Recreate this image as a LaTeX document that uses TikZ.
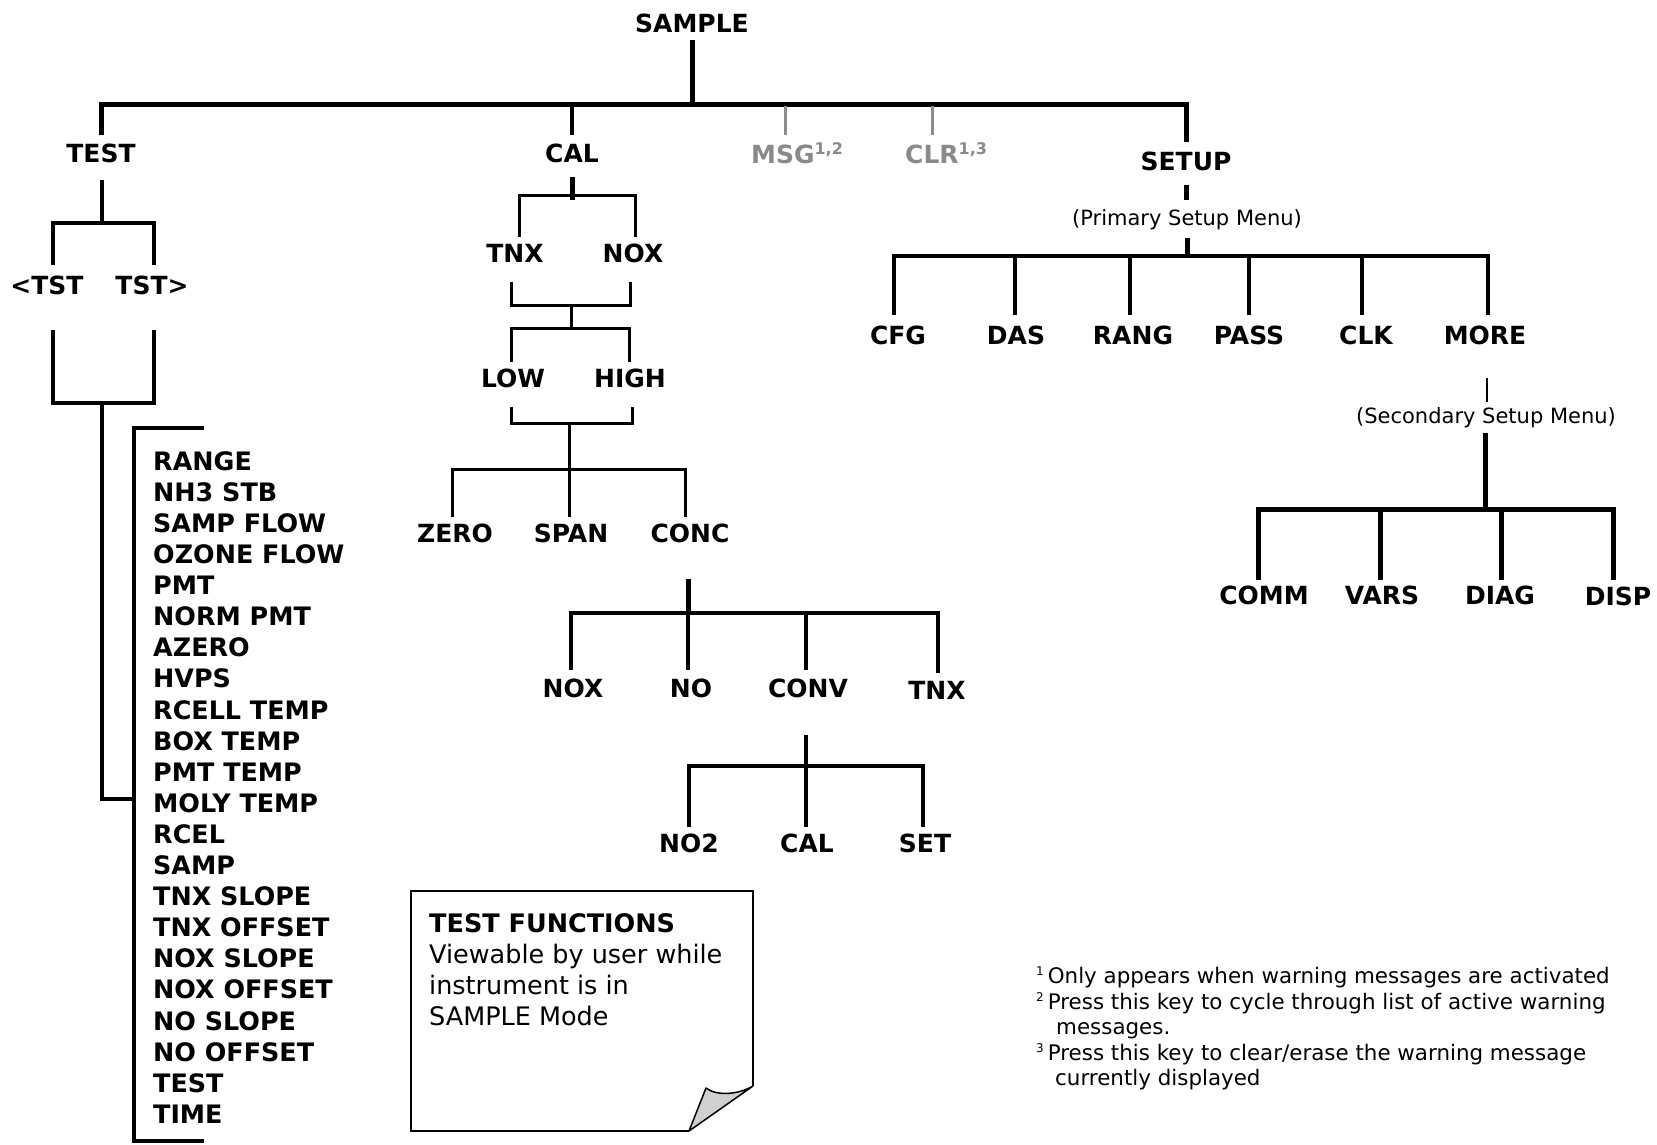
\documentclass[tikz,border=0pt]{standalone}
\usepackage{fontspec}
\setmainfont{DejaVu Sans}
\begin{document}
\begin{tikzpicture}[x=1pt,y=-1pt,
  lbl/.style={font=\fontsize{25}{30}\selectfont\bfseries, inner sep=0pt, anchor=center},
  glbl/.style={lbl, text=greytxt, anchor=west},
  item/.style={font=\fontsize{25.4}{30}\selectfont\bfseries, inner sep=0pt, anchor=west},
  small/.style={font=\fontsize{21}{25}\selectfont, inner sep=0pt, anchor=base},
  note/.style={font=\fontsize{21.4}{25}\selectfont, inner sep=0pt, anchor=base west},
  boxtxt/.style={font=\fontsize{25.5}{30}\selectfont, inner sep=0pt, anchor=base west},
  wA/.style={line width=5pt, line join=miter},
  wB/.style={line width=4.2pt, line join=miter},
  wC/.style={line width=3pt, line join=miter},
  wG/.style={line width=3pt, draw=greyline},
]
\definecolor{greytxt}{HTML}{8A8A8A}
\definecolor{greyline}{HTML}{8C8C8C}
\definecolor{foldfill}{HTML}{D0D0D0}
\useasboundingbox (0,0) rectangle (1657,1144);

% ---------- top level ----------
\node[lbl] (sample) at (692,23) {SAMPLE};
\node[lbl] (test) at (101,153) {TEST};
\node[lbl] (cal) at (572,153) {CAL};
\node[glbl] (msg) at (751,153) {MSG\raisebox{9pt}{\fontsize{16}{16}\selectfont 1,2}};
\node[glbl] (clr) at (905,153) {CLR\raisebox{9pt}{\fontsize{16}{16}\selectfont 1,3}};
\node[lbl] (setup) at (1186,161) {SETUP};

\coordinate (barL) at (101,104);
\coordinate (barR) at (1186,104);
\draw[wA] (692,40) -- (692,104);
\draw[wA] (101,135) -- (barL) -- (barR) -- (1186,142);
\draw[wB] (572,104) -- (572,135);
\draw[wG] (785,106) -- (785,135);
\draw[wG] (932,106) -- (932,135);

% ---------- TEST subtree ----------
\node[lbl] (ltst) at (47,285) {\textless TST};
\node[lbl] (rtst) at (152,285) {TST\textgreater};
\draw[wB] (102,180) -- (102,223);
\draw[wB] (53,265) -- (53,223) -- (154,223) -- (154,265);
\draw[wB] (53,330) -- (53,403) -- (154,403) -- (154,330);
\coordinate (tj) at (102,799);
\draw[wB] (102,403) -- (tj) -- (134,799);
\draw[wB] (204,428) -- (134,428) -- (134,1141) -- (204,1141);

\foreach \t [count=\i from 0] in {RANGE,NH3 STB,SAMP FLOW,OZONE FLOW,PMT,NORM PMT,AZERO,HVPS,RCELL TEMP,BOX TEMP,PMT TEMP,MOLY TEMP,RCEL,SAMP,TNX SLOPE,TNX OFFSET,NOX SLOPE,NOX OFFSET,NO SLOPE,NO OFFSET,TEST,TIME}
  \node[item] (it\i) at (153,461+31.1*\i) {\t};

% ---------- CAL subtree ----------
\node[lbl] (tnx) at (515,253) {TNX};
\node[lbl] (nox) at (633,253) {NOX};
\node[lbl] (low) at (513,378) {LOW};
\node[lbl] (high) at (630,378) {HIGH};
\node[lbl] (zero) at (455,533) {ZERO};
\node[lbl] (span) at (571,533) {SPAN};
\node[lbl] (conc) at (690,533) {CONC};
\node[lbl] (nox2) at (573,688) {NOX};
\node[lbl] (no) at (691,688) {NO};
\node[lbl] (conv) at (808,688) {CONV};
\node[lbl] (tnx2) at (937,690) {TNX};
\node[lbl] (no2) at (689,843) {NO2};
\node[lbl] (cal2) at (807,843) {CAL};
\node[lbl] (set) at (925,843) {SET};

\draw[wA] (572,177) -- (572,200);
\draw[wC] (519,237) -- (519,195) -- (635,195) -- (635,237);
\draw[wC] (511,282) -- (511,305) -- (630,305) -- (630,282);
\draw[wC] (571,305) -- (571,328);
\draw[wC] (511,362) -- (511,328) -- (629,328) -- (629,362);
\draw[wC] (511,407) -- (511,423) -- (632,423) -- (632,407);
\draw[wC] (569,423) -- (569,517);
\draw[wC] (452,517) -- (452,469) -- (685,469) -- (685,517);

\draw[wA] (688,579) -- (688,613);
\draw[wB] (571,670) -- (571,613) -- (938,613) -- (938,673);
\draw[wB] (688,613) -- (688,670);
\draw[wB] (806,613) -- (806,670);

\draw[wB] (806,735) -- (806,766);
\draw[wB] (689,827) -- (689,766) -- (923,766) -- (923,827);
\draw[wB] (806,766) -- (806,827);

% ---------- SETUP subtree ----------
\node[small] (prim) at (1187,225) {(Primary Setup Menu)};
\node[lbl] (cfg) at (898,335) {CFG};
\node[lbl] (das) at (1016,335) {DAS};
\node[lbl] (rang) at (1133,335) {RANG};
\node[lbl] (pass) at (1249,335) {PASS};
\node[lbl] (clk) at (1366,335) {CLK};
\node[lbl] (more) at (1485,335) {MORE};
\draw[wA] (1186,185) -- (1186,200);
\draw[wA] (1187,238) -- (1187,256);
\draw[wB] (894,315) -- (894,256) -- (1488,256) -- (1488,315);
\foreach \xx in {1015,1130,1249,1362} \draw[wB] (\xx,256) -- (\xx,315);

\node[small] (sec) at (1486,423) {(Secondary Setup Menu)};
\node[lbl] (comm) at (1264,595) {COMM};
\node[lbl] (vars) at (1382,595) {VARS};
\node[lbl] (diag) at (1500,595) {DIAG};
\node[lbl] (disp) at (1618,596) {DISP};
\draw[line width=2.5pt] (1487,378) -- (1487,402);
\draw[wA] (1485,433) -- (1485,509);
\draw[wA] (1258,580) -- (1258,509) -- (1613,509) -- (1613,580);
\draw[wA] (1380,509) -- (1380,580);
\draw[wA] (1501,509) -- (1501,580);

% ---------- note box ----------
\draw[line width=1.5pt, line join=miter] (689,1131) -- (411,1131) -- (411,891) -- (753,891) -- (753,1086);
\filldraw[line width=1.5pt, fill=foldfill, line join=round] (753,1086) .. controls (738,1095) and (716,1096) .. (706,1088) -- (689,1131) -- cycle;
\node[boxtxt, font=\fontsize{25.5}{30}\selectfont\bfseries] (bt1) at (429,932) {TEST FUNCTIONS};
\node[boxtxt] (bt2) at (429,963) {Viewable by user while};
\node[boxtxt] (bt3) at (429,994) {instrument is in};
\node[boxtxt] (bt4) at (429,1025) {SAMPLE Mode};

% ---------- footnotes ----------
\node[note] (f1) at (1036,983) {\raisebox{8pt}{\fontsize{12}{12}\selectfont 1}\hspace{4pt}Only appears when warning messages are activated};
\node[note] (f2) at (1036,1009) {\raisebox{8pt}{\fontsize{12}{12}\selectfont 2}\hspace{4pt}Press this key to cycle through list of active warning};
\node[note] (f2b) at (1056,1034) {messages.};
\node[note] (f3) at (1036,1060) {\raisebox{8pt}{\fontsize{12}{12}\selectfont 3}\hspace{4pt}Press this key to clear/erase the warning message};
\node[note] (f3b) at (1055,1085) {currently displayed};
\end{tikzpicture}
\end{document}
